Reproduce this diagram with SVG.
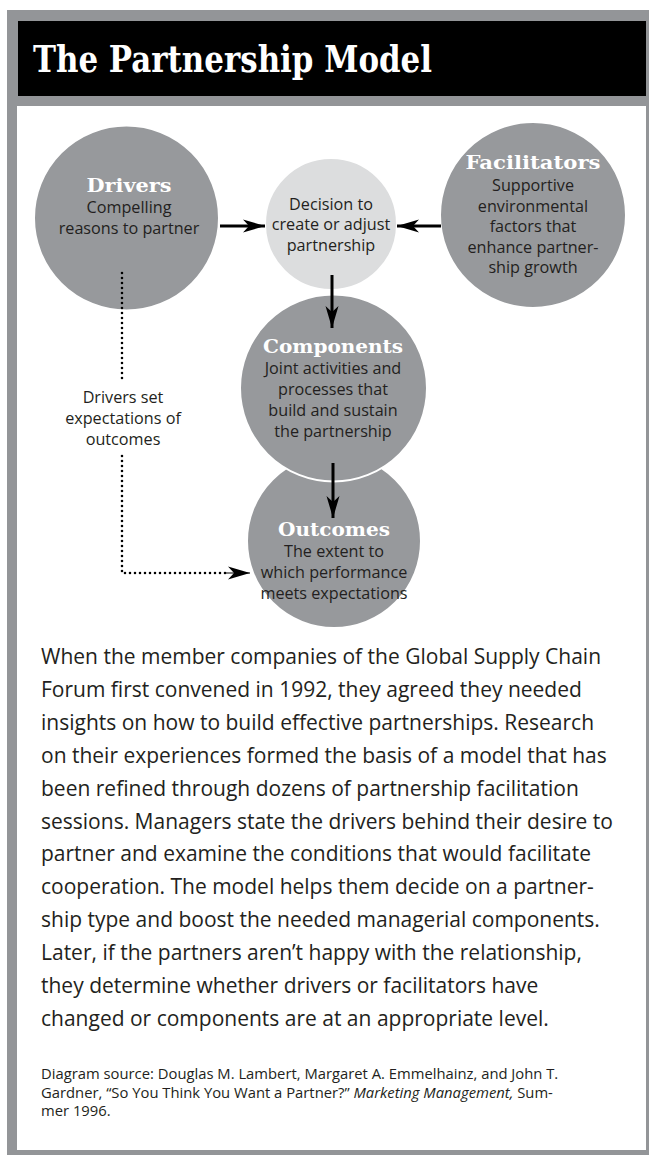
<svg xmlns="http://www.w3.org/2000/svg" width="649" height="1155" viewBox="0 0 649 1155">
<style>
.frame{fill:#939598}
.circ{fill:#97999c;stroke:#ffffff;stroke-width:2}
.circl{fill:#dcddde;stroke:#ffffff;stroke-width:2}
.hd{font-family:"DejaVu Serif",serif;font-weight:bold;fill:#ffffff;font-size:18.5px;text-anchor:middle}
.tx{font-family:"Open Sans","Noto Sans",sans-serif;fill:#231f20;font-size:16.2px;text-anchor:middle}
.para{font-family:"Open Sans","Noto Sans",sans-serif;fill:#231f20;font-size:21px}
.src{font-family:"Open Sans","Noto Sans",sans-serif;fill:#231f20;font-size:14.8px}
.ln{stroke:#000;stroke-width:3;fill:none}
.dot{stroke:#000;stroke-width:2.6;fill:none;stroke-linecap:round;stroke-dasharray:0 5}
</style>
<defs>
<marker id="ah" markerUnits="userSpaceOnUse" markerWidth="26" markerHeight="16" viewBox="-24 -8 26 16" refX="0" refY="0" orient="auto">
<path d="M0,0 L-22,-6.5 L-16,0 L-22,6.5 Z" fill="#000"/>
</marker>
</defs>
<g id="frame">
<rect class="frame" x="7" y="10" width="650" height="1150"/>
<rect x="17" y="106" width="629" height="1044" fill="#ffffff"/>
<rect x="18" y="21" width="628" height="75" fill="#000000"/>
<text x="33" y="72" font-family="DejaVu Serif,serif" font-weight="bold" font-size="37" fill="#ffffff" textLength="399" lengthAdjust="spacingAndGlyphs">The Partnership Model</text>
</g>
<g id="outcomes">
<circle class="circ" cx="334" cy="541" r="87"/>
<text class="hd" x="334" y="536" textLength="112" lengthAdjust="spacingAndGlyphs">Outcomes</text>
<text class="tx" x="334" y="557">The extent to</text>
<text class="tx" x="334" y="578">which performance</text>
<text class="tx" x="334" y="599">meets expectations</text>
</g>
<g id="components">
<circle class="circ" cx="333.5" cy="388" r="93.5"/>
<text class="hd" x="333" y="353" textLength="140" lengthAdjust="spacingAndGlyphs">Components</text>
<text class="tx" x="333" y="374">Joint activities and</text>
<text class="tx" x="333" y="395">processes that</text>
<text class="tx" x="333" y="416">build and sustain</text>
<text class="tx" x="333" y="437">the partnership</text>
</g>
<g id="drivers">
<circle class="circ" cx="126.5" cy="218" r="92.5"/>
<text class="hd" x="129" y="192" textLength="85" lengthAdjust="spacingAndGlyphs">Drivers</text>
<text class="tx" x="129" y="213">Compelling</text>
<text class="tx" x="129" y="234">reasons to partner</text>
</g>
<g id="decision">
<circle class="circl" cx="331" cy="224" r="66"/>
<text class="tx" x="331" y="209.5">Decision to</text>
<text class="tx" x="331" y="230">create or adjust</text>
<text class="tx" x="331" y="250.5">partnership</text>
</g>
<g id="facilitators">
<circle class="circ" cx="533" cy="215" r="93"/>
<text class="hd" x="533" y="169" textLength="135" lengthAdjust="spacingAndGlyphs">Facilitators</text>
<text class="tx" x="533" y="191">Supportive</text>
<text class="tx" x="533" y="212">environmental</text>
<text class="tx" x="533" y="232">factors that</text>
<text class="tx" x="533" y="253">enhance partner-</text>
<text class="tx" x="533" y="273">ship growth</text>
</g>
<g id="connectors">
<line class="ln" x1="220" y1="226" x2="265" y2="226" marker-end="url(#ah)"/>
<line class="ln" x1="441" y1="226" x2="397" y2="226" marker-end="url(#ah)"/>
<line class="ln" x1="332" y1="275" x2="332" y2="328" marker-end="url(#ah)"/>
<line class="ln" x1="333" y1="463" x2="333" y2="518" marker-end="url(#ah)"/>
<path class="dot" d="M122,273 V380"/>
<path class="dot" d="M122,456 V573 H228"/>
<line x1="226" y1="573" x2="250" y2="573" stroke="#000" stroke-width="1" marker-end="url(#ah)"/>
<g id="label">
<text class="tx" x="123" y="403">Drivers set</text>
<text class="tx" x="123" y="424">expectations of</text>
<text class="tx" x="123" y="445">outcomes</text>
</g>
</g>
<g id="body">
<text class="para" x="41" y="664">When the member companies of the Global Supply Chain</text>
<text class="para" x="41" y="696.9">Forum first convened in 1992, they agreed they needed</text>
<text class="para" x="41" y="729.8">insights on how to build effective partnerships. Research</text>
<text class="para" x="41" y="762.7">on their experiences formed the basis of a model that has</text>
<text class="para" x="41" y="795.6">been refined through dozens of partnership facilitation</text>
<text class="para" x="41" y="828.5">sessions. Managers state the drivers behind their desire to</text>
<text class="para" x="41" y="861.4">partner and examine the conditions that would facilitate</text>
<text class="para" x="41" y="894.3">cooperation. The model helps them decide on a partner-</text>
<text class="para" x="41" y="927.2">ship type and boost the needed managerial components.</text>
<text class="para" x="41" y="960.1">Later, if the partners aren’t happy with the relationship,</text>
<text class="para" x="41" y="993">they determine whether drivers or facilitators have</text>
<text class="para" x="41" y="1025.9">changed or components are at an appropriate level.</text>
<text class="src" x="41" y="1079">Diagram source: Douglas M. Lambert, Margaret A. Emmelhainz, and John T.</text>
<text class="src" x="41" y="1097.5">Gardner, “So You Think You Want a Partner?” <tspan font-style="italic">Marketing Management,</tspan> Sum-</text>
<text class="src" x="41" y="1116">mer 1996.</text>
</g>
</svg>
